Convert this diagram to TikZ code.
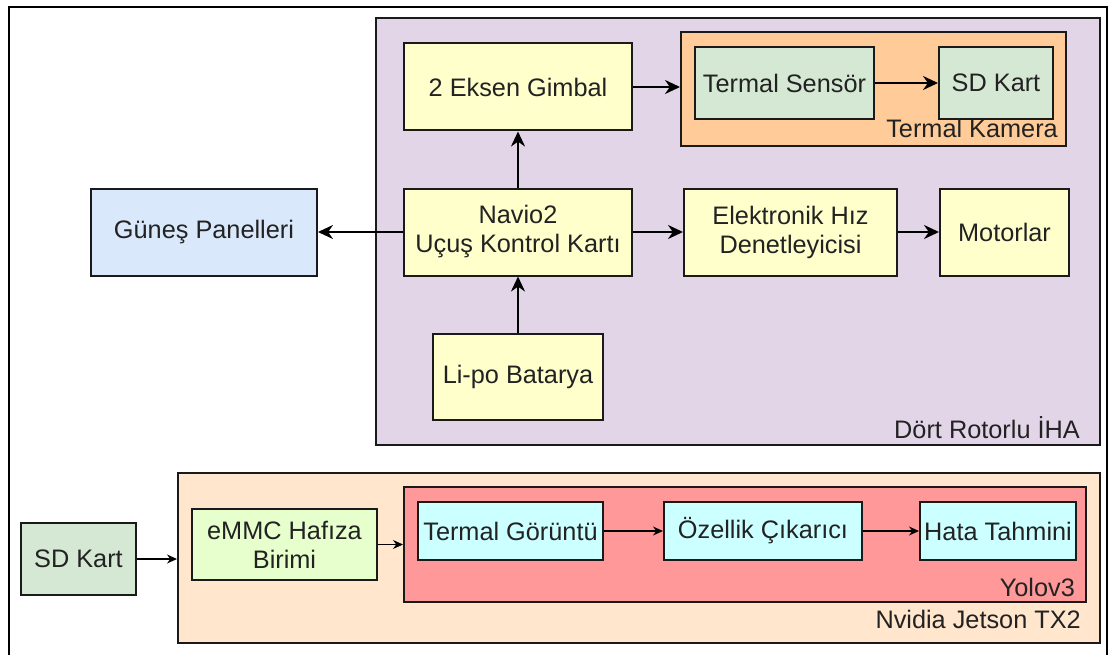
\documentclass[tikz,border=0pt]{standalone}
\usepackage{fontspec}
\setmainfont{Liberation Sans}
\usetikzlibrary{positioning, arrows.meta}

\definecolor{ihaPurple}{HTML}{E1D5E7}
\definecolor{camOrange}{HTML}{FFCC99}
\definecolor{jetsonPeach}{HTML}{FFE6CC}
\definecolor{yoloRed}{HTML}{FF9999}
\definecolor{boxYellow}{HTML}{FFFFCC}
\definecolor{boxGreen}{HTML}{D5E8D4}
\definecolor{boxCyan}{HTML}{CCFFFF}
\definecolor{panelBlue}{HTML}{DAE8FC}
\definecolor{emmcGreen}{HTML}{E6FFCC}
\definecolor{textGray}{HTML}{222222}
\definecolor{lineGray}{HTML}{1A1A1A}

\begin{document}
\begin{tikzpicture}[x=1pt, y=-1pt,
	every node/.style={text=textGray, font=\fontsize{25.3}{29}\selectfont},
	box/.style={draw=lineGray, line width=2pt, align=center, inner sep=0pt},
	group/.style={box},
	grplabel/.style={anchor=base east, inner sep=0pt},
	bigarrow/.style={line width=2.2pt, -{Stealth[length=15pt, width=14pt]}},
	smallarrow/.style={line width=1.3pt, -{Stealth[length=10pt, width=9pt]}}]
	\useasboundingbox (0,0) rectangle (1115,655);
	\draw[line width=2.4pt] (9,660) -- (9,7) -- (1107,7) -- (1107,660);

	\node[group, fill=ihaPurple, minimum width=724pt, minimum height=427pt] (IHA) at (738,231.5) {};
	\node[group, fill=camOrange, minimum width=385pt, minimum height=114pt] (KAMERA) at (873.5,89) {};
	\node[group, fill=jetsonPeach, minimum width=922pt, minimum height=170pt] (JETSON) at (639,558) {};
	\node[group, fill=yoloRed, minimum width=682pt, minimum height=115pt] (YOLO) at (745,544.5) {};

	\node[box, fill=boxYellow, minimum width=228pt, minimum height=87pt] (NAVIO) at (518,232) {Navio2\\Uçuş Kontrol Kartı};
	\node[box, fill=boxYellow, minimum width=228pt, minimum height=87pt, above=56pt of NAVIO] (GIMBAL) {2 Eksen Gimbal};
	\node[box, fill=boxYellow, minimum width=170pt, minimum height=86pt, below=56pt of NAVIO] (LIPO) {Li-po Batarya};
	\node[box, fill=boxYellow, minimum width=213pt, minimum height=87pt, right=50pt of NAVIO] (ESC) {Elektronik Hız\\Denetleyicisi};
	\node[box, fill=boxYellow, minimum width=129pt, minimum height=87pt, right=41pt of ESC] (MOTOR) {Motorlar};
	\node[box, fill=panelBlue, minimum width=226pt, minimum height=87pt, left=85pt of NAVIO] (GUNES) {Güneş Panelleri};
	\node[box, fill=boxGreen, minimum width=179pt, minimum height=72pt, anchor=west] (TSENS) at ([shift={(14,-6)}]KAMERA.west) {Termal Sensör};
	\node[box, fill=boxGreen, minimum width=114pt, minimum height=72pt, right=63pt of TSENS] (SDTOP) {SD Kart};

	\node[box, fill=boxGreen, minimum width=115pt, minimum height=72pt] (SDBOT) at (78.5,559) {SD Kart};
	\node[box, fill=emmcGreen, minimum width=185pt, minimum height=71pt] (EMMC) at (284.5,544.5) {eMMC Hafıza\\Birimi};
	\node[box, fill=boxCyan, minimum width=185pt, minimum height=58pt, anchor=west] (TGOR) at ([shift={(14,-13.5)}]YOLO.west) {Termal Görüntü};
	\node[box, fill=boxCyan, minimum width=198pt, minimum height=58pt, right=59pt of TGOR] (OZEL) {Özellik Çıkarıcı};
	\node[box, fill=boxCyan, minimum width=156pt, minimum height=58pt, right=56pt of OZEL] (HATA) {Hata Tahmini};

	\node[grplabel] at ([shift={(-21,-8)}]IHA.south east) {Dört Rotorlu İHA};
	\node[grplabel] at ([shift={(-9,-9)}]KAMERA.south east) {Termal Kamera};
	\node[grplabel] at ([shift={(-12,-7)}]YOLO.south east) {Yolov3};
	\node[grplabel] at ([shift={(-20,-16)}]JETSON.south east) {Nvidia Jetson TX2};

	\draw[bigarrow] (NAVIO) -- (GIMBAL);
	\draw[bigarrow] (LIPO) -- (NAVIO);
	\draw[bigarrow] (NAVIO) -- (ESC);
	\draw[bigarrow] (ESC) -- (MOTOR);
	\draw[bigarrow] (NAVIO) -- (GUNES);
	\draw[bigarrow] (GIMBAL.east) -- (GIMBAL.east -| KAMERA.west);
	\draw[bigarrow] (TSENS) -- (SDTOP);
	\draw[smallarrow] (SDBOT.east) -- (SDBOT.east -| JETSON.west);
	\draw[smallarrow] (EMMC.east) -- (EMMC.east -| YOLO.west);
	\draw[smallarrow] (TGOR) -- (OZEL);
	\draw[smallarrow] (OZEL) -- (HATA);
\end{tikzpicture}
\end{document}
